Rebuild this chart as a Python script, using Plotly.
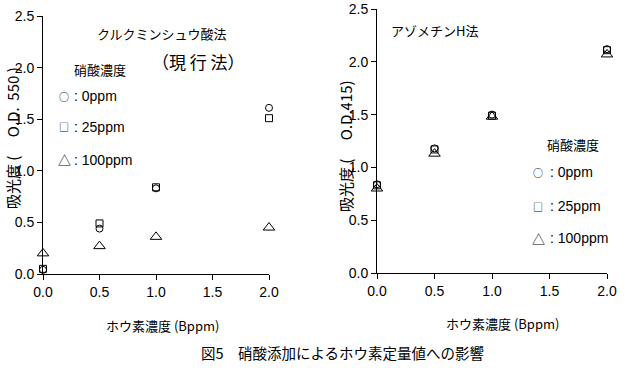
import plotly.graph_objects as go

boron = [0.0, 0.5, 1.0, 2.0]
# Curcumin oxalic acid method (left)
cur_0ppm = [0.04, 0.44, 0.83, 1.61]
cur_25ppm = [0.05, 0.49, 0.84, 1.51]
cur_100ppm = [0.20, 0.27, 0.36, 0.45]
# Azomethine-H method (right)
azo_0ppm = [0.84, 1.18, 1.50, 2.12]
azo_25ppm = [0.83, 1.17, 1.49, 2.11]
azo_100ppm = [0.80, 1.13, 1.48, 2.07]

series_names = [": 0ppm", ": 25ppm", ": 100ppm"]
legend_glyphs = ["○", "□", "△"]
symbols = ["circle-open", "square-open", "triangle-up-open"]
sizes = [7, 7, 10]

NUM = "Liberation Sans, Arial, sans-serif"
JP = "Noto Sans CJK JP, sans-serif"

fig = go.Figure()
for i, ys in enumerate([cur_0ppm, cur_25ppm, cur_100ppm]):
    fig.add_trace(go.Scatter(x=boron, y=ys, mode="markers", name=series_names[i],
                             marker=dict(symbol=symbols[i], size=sizes[i], color="black",
                                         line=dict(width=1, color="black")),
                             cliponaxis=False, xaxis="x", yaxis="y", showlegend=False))
for i, ys in enumerate([azo_0ppm, azo_25ppm, azo_100ppm]):
    fig.add_trace(go.Scatter(x=boron, y=ys, mode="markers", name=series_names[i],
                             marker=dict(symbol=symbols[i], size=sizes[i], color="black",
                                         line=dict(width=1, color="black")),
                             cliponaxis=False, xaxis="x2", yaxis="y2", showlegend=False))

axis_common = dict(showline=True, linecolor="black", linewidth=1, ticks="outside",
                   ticklen=5, tickcolor="black", showgrid=False, zeroline=False,
                   automargin=False,
                   tickfont=dict(family=NUM, size=14, color="black"))

W, H = 625, 368
fig.update_layout(
    width=W, height=H, margin=dict(l=0, r=0, t=0, b=0, autoexpand=False),
    paper_bgcolor="white", plot_bgcolor="white", showlegend=False,
    xaxis=dict(domain=[43 / W, 269 / W], range=[0, 2.0], tickvals=[0, 0.5, 1.0, 1.5, 2.0],
               tickformat=".1f", anchor="y", **axis_common),
    yaxis=dict(domain=[(H - 274) / H, (H - 16) / H], range=[0, 2.5], dtick=0.5,
               tickformat=".1f", anchor="x", **axis_common),
    xaxis2=dict(domain=[377 / W, 607 / W], range=[0, 2.0], tickvals=[0, 0.5, 1.0, 1.5, 2.0],
                tickformat=".1f", anchor="y2", **axis_common),
    yaxis2=dict(domain=[(H - 273) / H, (H - 9) / H], range=[0, 2.5], dtick=0.5,
                tickformat=".1f", anchor="x2", **axis_common),
)


def add_text(text, x, y, size=13, angle=0, xanchor="center", family=JP):
    fig.add_annotation(text=text, x=x / W, y=1 - y / H, xref="paper", yref="paper",
                       showarrow=False, xanchor=xanchor, yanchor="middle",
                       textangle=angle, font=dict(family=family, size=size, color="black"))


add_text("クルクミンシュウ酸法", 162, 33, size=13)
add_text("（現 行 法）", 198, 62, size=17)
add_text("アゾメチンH法", 434, 30, size=13)
add_text("ホウ素濃度 (Bppm)", 163, 325)
add_text("ホウ素濃度 (Bppm)", 502, 323)
add_text("図5　硝酸添加によるホウ素定量値への影響", 342, 352, size=14.5)
add_text("吸光度 (　 O.D.  550 )", 12, 138, size=15, angle=-90)
add_text("吸光度 (　 O.D.415)", 345, 146, size=15, angle=-90)

# Legend blocks (text), one per panel
legend_pos = [dict(title=(100, 69), sym_x=64, text_x=72, ys=[96, 127, 160]),
              dict(title=(573, 144), sym_x=538, text_x=548, ys=[172, 206, 238])]
glyph_sizes = [10, 10, 13]
for lp in legend_pos:
    add_text("硝酸濃度", lp["title"][0], lp["title"][1], size=13)
    for i in range(3):
        add_text(legend_glyphs[i], lp["sym_x"], lp["ys"][i], size=glyph_sizes[i])
        add_text(series_names[i], lp["text_x"], lp["ys"][i], size=14, xanchor="left", family=NUM)

fig.write_html("out.html")
